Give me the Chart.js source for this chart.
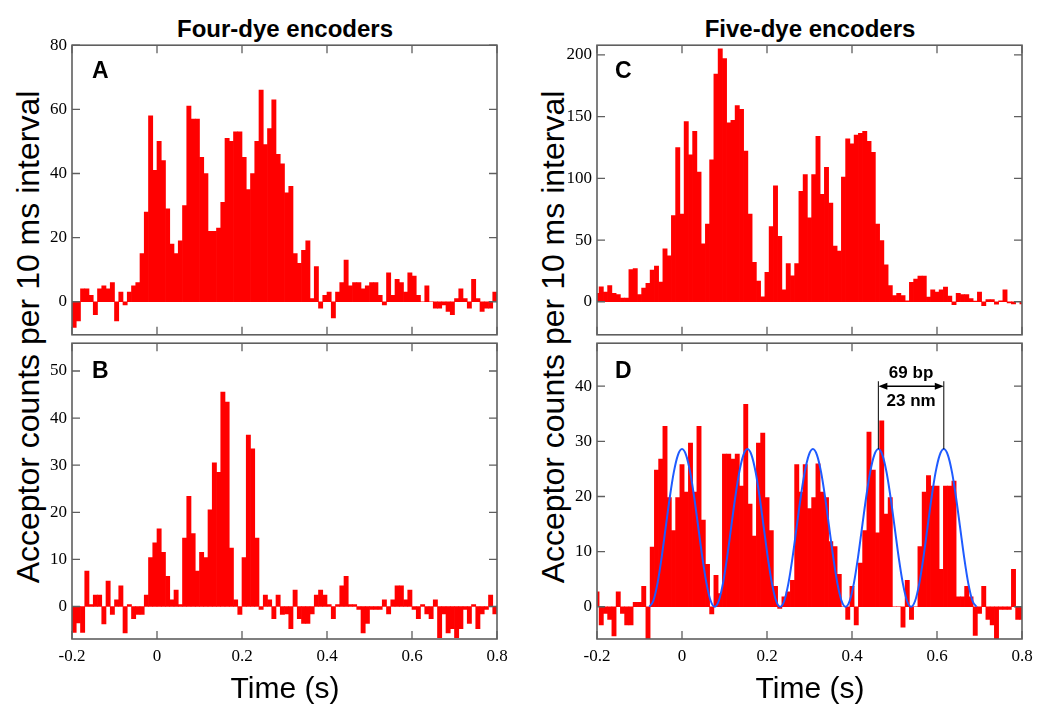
<!DOCTYPE html>
<html lang="en">
<head>
<meta charset="UTF-8">
<title>Acceptor counts</title>
<script src="https://cdn.jsdelivr.net/npm/chart.js"></script>
<style>
    body { margin: 0; background: #fff; }
    .page { position: relative; width: 1050px; height: 714px; overflow: hidden; font-family: 'Liberation Sans', Arial, sans-serif; color: #000; }
    .page canvas { position: absolute; }
    .title { position: absolute; width: 320px; text-align: center; font-weight: bold; font-size: 24px; line-height: 30px; top: 14px; }
    .xlabel { position: absolute; width: 300px; text-align: center; font-size: 30px; line-height: 36px; top: 670px; }
    .ylabel { position: absolute; width: 600px; height: 40px; text-align: center; font-size: 32px; line-height: 40px; top: 317px; transform: rotate(-90deg); white-space: nowrap; }
    .letter { position: absolute; font-weight: bold; font-size: 23px; line-height: 23px; }
</style>
</head>
<body>
<div class="page">
    <div class="title" style="left:125px">Four-dye encoders</div>
    <div class="title" style="left:650px">Five-dye encoders</div>
    <div class="ylabel" style="left:-272px">Acceptor counts per 10 ms interval</div>
    <div class="ylabel" style="left:253px">Acceptor counts per 10 ms interval</div>

    <canvas id="chartA" width="520" height="320" style="left:0;top:30px"></canvas>
    <canvas id="chartB" width="520" height="341" style="left:0;top:328px"></canvas>
    <canvas id="chartC" width="525" height="320" style="left:525px;top:30px"></canvas>
    <canvas id="chartD" width="525" height="341" style="left:525px;top:328px"></canvas>

    <div class="letter" style="left:92px;top:59px">A</div>
    <div class="letter" style="left:92px;top:359px">B</div>
    <div class="letter" style="left:615px;top:59px">C</div>
    <div class="letter" style="left:615px;top:359px">D</div>

    <div class="xlabel" style="left:135px">Time (s)</div>
    <div class="xlabel" style="left:660px">Time (s)</div>
</div>

<script>
    // 10 ms bins; four-dye traces start at the -0.2 s edge, five-dye traces are centred on it
    var binWidth = 0.01;
    var fourStart = -0.195;
    var fiveStart = -0.2;

    var xTicks = [-0.2, 0, 0.2, 0.4, 0.6, 0.8];
    var ticksA = [0, 20, 40, 60, 80];
    var ticksB = [0, 10, 20, 30, 40, 50];
    var ticksC = [0, 50, 100, 150, 200];
    var ticksD = [0, 10, 20, 30, 40];

    var countsA = [
        -8, -6, 4, 4, 2, -4, 4, 5, 4, 6,
        -6, 3, -1, 3, 5, 6, 15, 28, 58, 41,
        50, 44, 29, 18, 15, 19, 30, 61, 57, 57,
        45, 40, 22, 22, 23, 31, 51, 50, 53, 53,
        45, 35, 40, 50, 66, 49, 54, 63, 46, 43,
        34, 36, 15, 12, 16, 19, 1, 11, -2, 2,
        3, -5, 3, 6, 13, 5, 6, 6, 4, 5,
        6, 6, 2, -1, 9, 2, 7, 6, 3, 9,
        8, 2, 0, 5, 0, -2, -2, -1, -3, -4,
        1, 4, 1, -2, 7, 1, -3, -2, -2, 3
    ];

    var countsB = [
        -5.5, -3.5, -5.5, 7.5, 0.4, 2.4, 2.4, -3.7, 5.4, -1.7,
        1.4, 4.4, -5.6, 0.4, -2.6, -1.7, -1.7, 2.4, 10.4, 13.5,
        16.5, 11.5, 6.4, 1.4, 3.5, 0.4, 14.5, 23.4, 15.5, 7.5,
        11.5, 10.4, 20.5, 30.5, 28.5, 45.5, 43.4, 12.4, 1.4, -1.7,
        10.4, 36.4, 33.5, 14.5, -0.6, 2.4, 1.4, -2.6, 2.4, -1.7,
        -1.6, -4.7, 3.5, -2.6, -3.6, -3.6, -1.6, 2.4, 3.5, 2.4,
        0.4, -2.6, 0.4, 4.4, 6.4, 0.4, 0.4, -0.6, -5.6, -3.6,
        -0.6, -0.6, -0.6, 1.4, -1.6, 1.4, 4.4, 4.4, 1.4, 3.5,
        -0.6, -2.6, 0.4, -1.6, -2.6, 1.4, -6.6, -1.6, -5.6, -4.7,
        -6.6, -4.7, -0.6, -3.6, 0.4, -4.7, -1.6, -0.6, 2.4, -1.6
    ];

    var countsC = [
        6.8, 12, 7.9, 13, 6.8, 5.8, 2.9, 2.9, 26, 26.8,
        5.8, 11, 15, 25.7, 28.9, 16, 42.8, 37.3, 69.8, 125,
        71, 146, 119, 138, 105, 47, 63, 115, 184.5, 205,
        197, 145, 147, 159, 156, 122, 71, 32, 16.8, 3.9,
        23.9, 61, 94, 53, 9.7, 31, 21, 31, 89.5, 103,
        68, 103, 134, 87, 109, 80, 45, 41, 101, 132,
        128, 135, 136.5, 138, 130, 121, 63, 49.6, 30, 13,
        5, 6.8, 5, 0.8, 15.7, 18.4, 20.7, 20.7, 3.7, 9.7,
        7.9, 9.7, 11.8, 4.5, -2.4, 6.8, 5.8, 5.8, 2.6, 0.5,
        7.9, -3.1, 1.8, 1.8, -2, 0.8, 9.7, -1, -1.8, 0,
        -1.8
    ];

    var countsD = [
        2.7, -3.3, -1.2, -2.3, -5.3, 2.7, -1.2, -3.3, -3.3, 0.8,
        0.8, 3.7, -6, 10.8, 24.8, 26.8, 32.7, 19.8, 13.8, 19.8,
        25.8, 20.8, 29.7, 20.8, 32.7, 15.7, 7.7, -1.3, 5.7, 2.4,
        27.7, 27.7, 26.8, 27.7, 21.9, 36.7, 18.6, 12.8, 29.7, 31.5,
        19.8, 13.8, 3.7, -0.3, 1.8, 2.7, 4.8, 25.8, 20.8, 25.8,
        17.8, 19.8, 25.9, 20.8, 19.8, 11.8, 10.9, 5.9, 0, -2.3,
        3.7, -3.3, 7.9, 13.8, 31.7, 24.8, 13.4, 33.7, 16.8, 19.8,
        0, 0, -3.7, 4.8, -2.3, 0, 10.9, 20.8, 23.8, 21.9,
        21.9, 6.8, 21.9, 21.9, 22.8, 1.8, 1.8, 3.7, 1.8, -5.2,
        -1.2, 3.7, -2.3, -3.3, -5.8, -0.5, -0.5, -0.5, 6.8, -2.3,
        -2.3
    ];

    // periodic fit drawn over panel D, sampled every 1/16 of a period
    var fitStart = -0.077;
    var fitStep = 0.009625;
    var fitValues = [
        0, 1.09, 4.19, 8.83, 14.3, 19.77, 24.41, 27.51, 28.6, 27.51, 24.41, 19.77, 14.3, 8.83, 4.19, 1.09,
        0, 1.09, 4.19, 8.83, 14.3, 19.77, 24.41, 27.51, 28.6, 27.51, 24.41, 19.77, 14.3, 8.83, 4.19, 1.09,
        0, 1.09, 4.19, 8.83, 14.3, 19.77, 24.41, 27.51, 28.6, 27.51, 24.41, 19.77, 14.3, 8.83, 4.19, 1.09,
        0, 1.09, 4.19, 8.83, 14.3, 19.77, 24.41, 27.51, 28.6, 27.51, 24.41, 19.77, 14.3, 8.83, 4.19, 1.09,
        0, 1.09, 4.19, 8.83, 14.3, 19.77, 24.41, 27.51, 28.6, 27.51, 24.41, 19.77, 14.3, 8.83, 4.19, 1.09,
        0
    ];

    // spacing marker between two fitted peaks
    var markTimes = [0.462, 0.616];
    var markPeak = 28.6;
    var markTop = 40.9;
    var markArrow = 40;
    var markLabels = ['69 bp', '23 nm'];
    var markLabelLevels = [42.4, 37.3];

    var tickFont = { family: "'Liberation Serif', 'DejaVu Serif', 'Times New Roman', Times, serif", size: 17 };

    var framePlugin = {
        id: 'frame',
        afterDatasetsDraw: function (chart) {
            var ctx = chart.ctx, a = chart.chartArea, x = chart.scales.x, y = chart.scales.y;
            ctx.save();
            ctx.strokeStyle = '#5f5f5f';
            ctx.lineWidth = 1.3;
            ctx.beginPath();
            x.ticks.forEach(function (t) {
                var px = x.getPixelForValue(t.value);
                ctx.moveTo(px, a.top); ctx.lineTo(px, a.top + 8);
                ctx.moveTo(px, a.bottom); ctx.lineTo(px, a.bottom - 8);
            });
            y.ticks.forEach(function (t) {
                var py = y.getPixelForValue(t.value);
                ctx.moveTo(a.left, py); ctx.lineTo(a.left + 8, py);
                ctx.moveTo(a.right, py); ctx.lineTo(a.right - 8, py);
            });
            ctx.stroke();
            ctx.lineWidth = 1.6;
            ctx.strokeRect(a.left, a.top, a.right - a.left, a.bottom - a.top);
            ctx.restore();
        }
    };

    var markPlugin = {
        id: 'mark',
        afterDatasetsDraw: function (chart) {
            var ctx = chart.ctx, x = chart.scales.x, y = chart.scales.y;
            var x1 = x.getPixelForValue(markTimes[0]);
            var x2 = x.getPixelForValue(markTimes[1]);
            var top = y.getPixelForValue(markTop);
            var bot = y.getPixelForValue(markPeak);
            var ay = y.getPixelForValue(markArrow);
            ctx.save();
            ctx.strokeStyle = '#000';
            ctx.fillStyle = '#000';
            ctx.lineWidth = 1;
            ctx.beginPath();
            ctx.moveTo(x1, top); ctx.lineTo(x1, bot);
            ctx.moveTo(x2, top); ctx.lineTo(x2, bot);
            ctx.stroke();
            ctx.lineWidth = 1.5;
            ctx.beginPath();
            ctx.moveTo(x1 + 6, ay); ctx.lineTo(x2 - 6, ay);
            ctx.stroke();
            ctx.beginPath();
            ctx.moveTo(x1, ay); ctx.lineTo(x1 + 9, ay - 3.5); ctx.lineTo(x1 + 9, ay + 3.5); ctx.closePath();
            ctx.moveTo(x2, ay); ctx.lineTo(x2 - 9, ay - 3.5); ctx.lineTo(x2 - 9, ay + 3.5); ctx.closePath();
            ctx.fill();
            ctx.font = "bold 17px 'Liberation Sans', Arial, sans-serif";
            ctx.textAlign = 'center';
            ctx.textBaseline = 'middle';
            for (var i = 0; i < markLabels.length; i++) {
                ctx.fillText(markLabels[i], (x1 + x2) / 2, y.getPixelForValue(markLabelLevels[i]));
            }
            ctx.restore();
        }
    };

    function painel(id, counts, start, yMin, yMax, yTicks, withXLabels, padding, extra, plugins) {
        var pontos = counts.map(function (v, i) { return { x: start + i * binWidth, y: v }; });
        var datasets = [{
            type: 'bar',
            data: pontos,
            backgroundColor: '#ff0000',
            borderWidth: 0,
            barPercentage: 1,
            categoryPercentage: 1,
            clip: 0,
            order: 2
        }];
        if (extra) datasets.push(extra);

        return new Chart(document.getElementById(id), {
            type: 'bar',
            data: { datasets: datasets },
            options: {
                responsive: false,
                animation: false,
                events: [],
                layout: { padding: padding },
                plugins: { legend: { display: false }, tooltip: { enabled: false } },
                scales: {
                    x: {
                        type: 'linear',
                        min: -0.2,
                        max: 0.8,
                        offset: false,
                        afterBuildTicks: function (s) { s.ticks = xTicks.map(function (v) { return { value: v }; }); },
                        afterFit: function (s) { s.height = withXLabels ? 30 : 0; },
                        grid: { display: false, drawTicks: false, offset: false },
                        border: { display: false },
                        ticks: {
                            display: withXLabels,
                            font: tickFont,
                            color: '#000',
                            padding: 7,
                            maxRotation: 0,
                            autoSkip: false,
                            callback: function (v) { return String(v); }
                        }
                    },
                    y: {
                        type: 'linear',
                        min: yMin,
                        max: yMax,
                        afterBuildTicks: function (s) { s.ticks = yTicks.map(function (v) { return { value: v }; }); },
                        afterFit: function (s) { s.width = 72; },
                        grid: { display: false, drawTicks: false },
                        border: { display: false },
                        ticks: {
                            font: tickFont,
                            color: '#000',
                            padding: 5,
                            callback: function (v) { return String(v); }
                        }
                    }
                }
            },
            plugins: plugins
        });
    }

    painel('chartA', countsA, fourStart, -10.3, 80, ticksA, false,
        { left: 0, top: 15, right: 23, bottom: 7 }, null, [framePlugin]);
    painel('chartB', countsB, fourStart, -6.9, 55.9, ticksB, true,
        { left: 0, top: 15, right: 23, bottom: 0 }, null, [framePlugin]);
    painel('chartC', countsC, fiveStart, -26.8, 207.9, ticksC, false,
        { left: 0, top: 15, right: 28, bottom: 7 }, null, [framePlugin]);

    var ajuste = {
        type: 'line',
        data: fitValues.map(function (v, i) { return { x: fitStart + i * fitStep, y: v }; }),
        borderColor: '#1f5bff',
        borderWidth: 2,
        pointRadius: 0,
        fill: false,
        cubicInterpolationMode: 'monotone',
        order: 1
    };
    painel('chartD', countsD, fiveStart, -5.85, 47.8, ticksD, true,
        { left: 0, top: 15, right: 28, bottom: 0 }, ajuste, [framePlugin, markPlugin]);
</script>
</body>
</html>
